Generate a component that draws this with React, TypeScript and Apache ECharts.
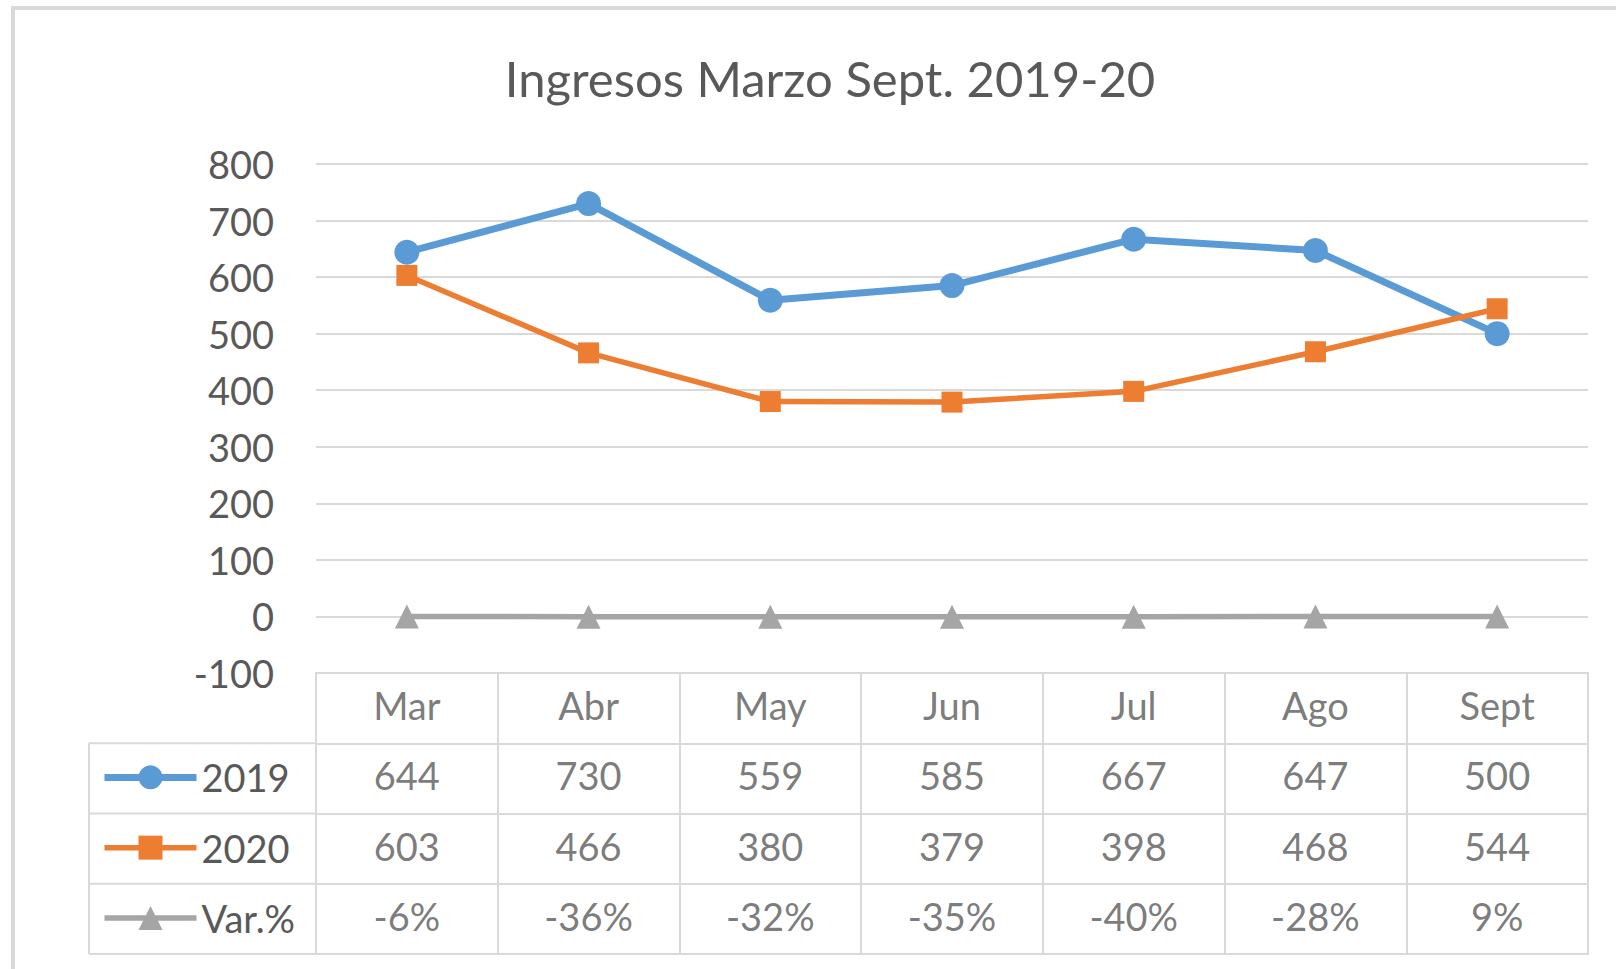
import React, { useEffect, useRef } from "react";
import * as echarts from "echarts";

const TITLE = "Ingresos Marzo Sept. 2019-20";
const months = ["Mar", "Abr", "May", "Jun", "Jul", "Ago", "Sept"];
const seriesNames = ["2019", "2020", "Var.%"];
const values2019 = [644, 730, 559, 585, 667, 647, 500];
const values2020 = [603, 466, 380, 379, 398, 468, 544];
const varPct = [-0.06, -0.36, -0.32, -0.35, -0.4, -0.28, 0.09];
const yTicks = { min: -100, max: 800, interval: 100 };

const FONT = "Lato, 'Liberation Sans', sans-serif";
const TEXT = "#595959";
const GRIDC = "#D9D9D9";
const C2019 = "#5B9BD5";
const C2020 = "#ED7D31";
const CVAR = "#A5A5A5";

const fmtPct = (v: number) => `${Math.round(v * 100)}%`;

export default function App() {
  const ref = useRef<HTMLDivElement>(null);
  useEffect(() => {
    document.body.style.margin = "0";
    const chart = echarts.init(ref.current!, null, { renderer: "svg" });

    const rows = ["hdr", ...seriesNames];
    const cellData: any[] = [];
    months.forEach((m, i) => {
      cellData.push({ value: [i, 0], name: m });
      cellData.push({ value: [i, 1], name: String(values2019[i]) });
      cellData.push({ value: [i, 2], name: String(values2020[i]) });
      cellData.push({ value: [i, 3], name: fmtPct(varPct[i]) });
    });

    const tableTop = 673;
    const tableBottom = 954;
    const rowH = (tableBottom - tableTop) / 4;
    const legendLines: any[] = [];
    for (let r = 1; r <= 4; r++) {
      const y = tableTop + rowH * r;
      legendLines.push({
        type: "line",
        shape: { x1: 89, y1: y, x2: 316, y2: y },
        style: { stroke: GRIDC, lineWidth: 2 },
      });
    }
    legendLines.push({
      type: "line",
      shape: { x1: 89, y1: tableTop + rowH, x2: 89, y2: tableBottom },
      style: { stroke: GRIDC, lineWidth: 2 },
    });

    chart.setOption({
      animation: false,
      backgroundColor: "#ffffff",
      title: {
        text: TITLE,
        left: 825,
        textAlign: "center",
        top: 48,
        textStyle: { fontFamily: FONT, fontSize: 49, fontWeight: "normal", color: TEXT },
      },
      graphic: [
        {
          type: "rect",
          shape: { x: 13, y: 8, width: 1650, height: 1000 },
          style: { fill: "none", stroke: GRIDC, lineWidth: 4 },
          silent: true,
        },
        ...legendLines,
      ],
      legend: {
        data: seriesNames,
        orient: "vertical",
        left: 96,
        top: tableTop + rowH * 1.5 - 20 - 6,
        itemWidth: 92,
        itemHeight: 30,
        itemGap: rowH - 40,
        lineStyle: { width: "inherit" },
        textStyle: { fontFamily: FONT, fontSize: 38, color: TEXT, lineHeight: 40 },
      },
      grid: [
        { left: 316, top: 164, width: 1272, height: tableTop - 164 },
        {
          left: 316,
          top: tableTop,
          width: 1272,
          height: tableBottom - tableTop,
          show: true,
          borderColor: GRIDC,
          borderWidth: 2,
        },
      ],
      xAxis: [
        {
          gridIndex: 0,
          type: "category",
          data: months,
          boundaryGap: true,
          axisLine: { show: false },
          axisTick: { show: false },
          axisLabel: { show: false },
        },
        {
          gridIndex: 1,
          type: "category",
          data: months,
          boundaryGap: true,
          axisLine: { show: false },
          axisTick: { show: false },
          axisLabel: { show: false },
          splitLine: { show: true, interval: 0, lineStyle: { color: GRIDC, width: 2 } },
        },
      ],
      yAxis: [
        {
          gridIndex: 0,
          type: "value",
          min: yTicks.min,
          max: yTicks.max,
          interval: yTicks.interval,
          axisLine: { show: false },
          axisTick: { show: false },
          axisLabel: { fontFamily: FONT, fontSize: 38, color: TEXT, margin: 42 },
          splitLine: { lineStyle: { color: GRIDC, width: 2 } },
        },
        {
          gridIndex: 1,
          type: "category",
          data: rows,
          inverse: true,
          boundaryGap: true,
          axisLine: { show: false },
          axisTick: { show: false },
          axisLabel: { show: false },
          splitLine: { show: true, interval: 0, lineStyle: { color: GRIDC, width: 2 } },
        },
      ],
      series: [
        {
          name: "2019",
          type: "line",
          xAxisIndex: 0,
          yAxisIndex: 0,
          data: values2019,
          color: C2019,
          symbol: "circle",
          symbolSize: 25,
          lineStyle: { width: 7, color: C2019 },
          itemStyle: { color: C2019 },
          z: 4,
        },
        {
          name: "2020",
          type: "line",
          xAxisIndex: 0,
          yAxisIndex: 0,
          data: values2020,
          color: C2020,
          symbol: "rect",
          symbolSize: 21,
          lineStyle: { width: 5.5, color: C2020 },
          itemStyle: { color: C2020 },
          z: 5,
        },
        {
          name: "Var.%",
          type: "line",
          xAxisIndex: 0,
          yAxisIndex: 0,
          data: varPct,
          color: CVAR,
          symbol: "triangle",
          symbolSize: 24,
          lineStyle: { width: 5.5, color: CVAR },
          itemStyle: { color: CVAR },
          z: 3,
        },
        {
          name: "cells",
          type: "scatter",
          xAxisIndex: 1,
          yAxisIndex: 1,
          data: cellData,
          symbolSize: 1,
          itemStyle: { color: "rgba(0,0,0,0)" },
          silent: true,
          label: {
            show: true,
            position: "inside",
            offset: [0, -3],
            formatter: (p: any) => p.name,
            fontFamily: FONT,
            fontSize: 38,
            color: TEXT,
          },
        },
      ],
    });
    return () => chart.dispose();
  }, []);
  return (
    <div
      ref={ref}
      style={{ position: "fixed", left: 0, top: 0, width: 1616, height: 969 }}
    />
  );
}
